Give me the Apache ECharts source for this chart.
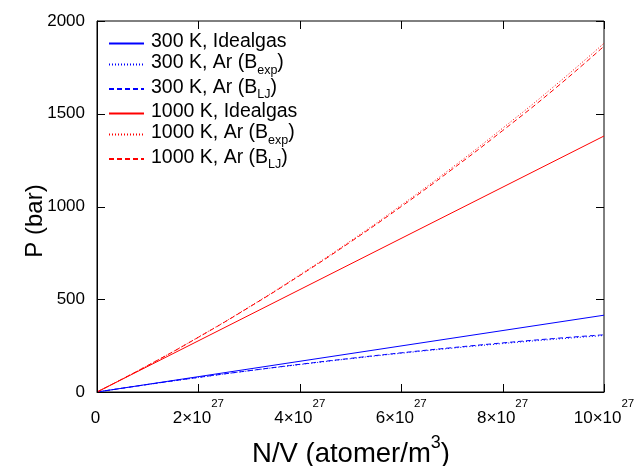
<!DOCTYPE html>
<html>
<head>
<meta charset="utf-8">
<script src="https://cdn.jsdelivr.net/npm/echarts@6/dist/echarts.min.js"></script>
<style>html,body{margin:0;padding:0;background:#fff;}#c{width:639px;height:466px;}</style>
</head>
<body>
<div id="c"></div>
<script>
// ---- data ----
const density = [0, 1e27, 2e27, 3e27, 4e27, 5e27, 6e27, 7e27, 8e27, 9e27, 1e28];
const idealDensity = [0, 1e28];
const p300Ideal = [0, 414];
const p300ArExp = [0, 40.3, 78.4, 114.3, 148.0, 179.6, 208.9, 236.0, 261.0, 283.7, 304.5];
const p300ArLJ = [0, 40.4, 78.8, 115.0, 149.2, 181.3, 211.2, 238.9, 264.6, 288.0, 308.5];
const p1000Ideal = [0, 1380];
const p1000ArExp = [0, 143.0, 296.0, 458.7, 631.5, 814.0, 1007.0, 1209.0, 1422.0, 1644.0, 1880.0];
const p1000ArLJ = [0, 142.7, 295.0, 456.8, 628.0, 808.8, 999.5, 1199.5, 1409.0, 1628.0, 1864.0];
const seriesNames = ['300 K, Idealgas', '300 K, Ar (B_exp)', '300 K, Ar (B_LJ)', '1000 K, Idealgas', '1000 K, Ar (B_exp)', '1000 K, Ar (B_LJ)'];
const xTickValues = [0, 2e27, 4e27, 6e27, 8e27, 1e28];
const xTickMantissa = ['0', '2', '4', '6', '8', '10'];
const xTickExponent = '27';
const yTickValues = [0, 500, 1000, 1500, 2000];
const X_MAX = 1e28, Y_MAX = 2000;

function pairs(xs, ys) { return ys.map((y, i) => [xs[i], y]); }

const BLUE = '#0000ff', RED = '#ff0000';
const DOT = [1, 2], DASH = [5, 3];

function legendLabel(name) {
  const m = name.match(/^(.*\(B)_(\w+)(\))$/);
  if (m) return '{n|' + m[1] + '}{sub|' + m[2] + '}{n|' + m[3] + '}';
  return '{n|' + name + '}';
}

const chart = echarts.init(document.getElementById('c'), null, {renderer: 'canvas'});
const FONT = 'Liberation Sans, Arial, sans-serif';
const tickFmtX = function (v) {
  const k = xTickValues.findIndex(t => Math.abs(t - v) < 1e20);
  if (k <= 0) return '{b|' + xTickMantissa[0] + '}{s| }';
  return '{b|' + xTickMantissa[k] + '×10}{s|' + xTickExponent + '}';
};

// inward tick marks on all four sides (mirrored), placed through the axis scales
const tickData = [];
xTickValues.forEach(v => { tickData.push([v, 0, 0]); tickData.push([v, Y_MAX, 1]); });
yTickValues.forEach(v => { tickData.push([0, v, 2]); tickData.push([X_MAX, v, 3]); });
const TL = 8;
function renderTick(params, api) {
  const p = api.coord([api.value(0), api.value(1)]);
  const d = api.value(2);
  let x = p[0], y = p[1], dx = 0, dy = 0;
  if (d === 0) { dy = -TL; x = Math.round(x) + 0.5; }
  else if (d === 1) { dy = TL; x = Math.round(x) + 0.5; }
  else if (d === 2) { dx = TL; y = Math.round(y) + 0.5; }
  else { dx = -TL; y = Math.round(y) + 0.5; }
  return {type: 'line', shape: {x1: x, y1: y, x2: x + dx, y2: y + dy}, style: {stroke: '#000', lineWidth: 1}, silent: true};
}

const option = {
  animation: false,
  backgroundColor: '#fff',
  textStyle: {fontFamily: FONT},
  grid: {left: 97, right: 35, top: 21, bottom: 74, show: true, borderColor: '#000', borderWidth: 1, backgroundColor: 'transparent'},
  legend: {
    orient: 'vertical', left: 103, top: 27,
    itemWidth: 35, itemHeight: 23, itemGap: 0.4,
    data: seriesNames,
    formatter: legendLabel,
    itemStyle: {opacity: 0, borderWidth: 0},
    textStyle: {
      color: '#000', fontFamily: FONT, padding: [0, 0, 0, 2],
      rich: {
        n: {fontSize: 19.5, lineHeight: 23, color: '#000', fontFamily: FONT, verticalAlign: 'top'},
        sub: {fontSize: 12.5, lineHeight: 12, color: '#000', fontFamily: FONT, verticalAlign: 'top', padding: [11, 0, 0, 0]}
      }
    }
  },
  xAxis: {
    type: 'value', min: 0, max: X_MAX, interval: 2e27, position: 'bottom',
    axisLine: {show: true, onZero: false, lineStyle: {color: '#000', width: 1}},
    axisTick: {show: false},
    splitLine: {show: false},
    axisLabel: {
      margin: 18, formatter: tickFmtX, color: '#000',
      rich: {
        b: {fontSize: 17, lineHeight: 17, color: '#000', fontFamily: FONT, verticalAlign: 'bottom'},
        s: {fontSize: 11.5, lineHeight: 11, color: '#000', fontFamily: FONT, verticalAlign: 'bottom', padding: [0, 0, 17, 0]}
      }
    }
  },
  yAxis: {
    type: 'value', min: 0, max: Y_MAX, interval: 500, position: 'left',
    axisLine: {show: true, onZero: false, lineStyle: {color: '#000', width: 1}},
    axisTick: {show: false},
    splitLine: {show: false},
    axisLabel: {margin: 12, fontSize: 17, color: '#000', fontFamily: FONT,
      formatter: v => String(yTickValues[Math.round(v / 500)])}
  },
  graphic: [{
    type: 'text', x: 351, y: 453,
    style: {
      text: '{t|N/V (atomer/m}{e|3}{t|)}', align: 'center', verticalAlign: 'middle', fill: '#000',
      rich: {
        t: {fontSize: 27.5, lineHeight: 31, fontFamily: FONT, fill: '#000', verticalAlign: 'bottom'},
        e: {fontSize: 18, lineHeight: 18, fontFamily: FONT, fill: '#000', verticalAlign: 'bottom', padding: [0, 0, 16, 0]}
      }
    }
  }, {
    type: 'text', x: 35, y: 221, rotation: Math.PI / 2,
    style: {text: 'P (bar)', fontSize: 24, fontFamily: FONT, fill: '#000', align: 'center', verticalAlign: 'middle'}
  }],
  series: [
    {name: seriesNames[0], type: 'line', data: pairs(idealDensity, p300Ideal), lineStyle: {color: BLUE, width: 1, type: 'solid'}},
    {name: seriesNames[1], type: 'line', smooth: true, data: pairs(density, p300ArExp), lineStyle: {color: BLUE, width: 1, type: DOT}},
    {name: seriesNames[2], type: 'line', smooth: true, data: pairs(density, p300ArLJ), lineStyle: {color: BLUE, width: 1, type: DASH}},
    {name: seriesNames[3], type: 'line', data: pairs(idealDensity, p1000Ideal), lineStyle: {color: RED, width: 1, type: 'solid'}},
    {name: seriesNames[4], type: 'line', smooth: true, data: pairs(density, p1000ArExp), lineStyle: {color: RED, width: 1, type: DOT}},
    {name: seriesNames[5], type: 'line', smooth: true, data: pairs(density, p1000ArLJ), lineStyle: {color: RED, width: 1, type: DASH}}
  ].map(s => Object.assign(s, {symbol: 'none', showSymbol: false, itemStyle: {color: s.lineStyle.color}}))
   .concat([{name: 'ticks', type: 'custom', renderItem: renderTick, data: tickData, encode: {x: 0, y: 1}, clip: false, silent: true, z: 5}])
};
chart.setOption(option);
</script>
</body>
</html>
